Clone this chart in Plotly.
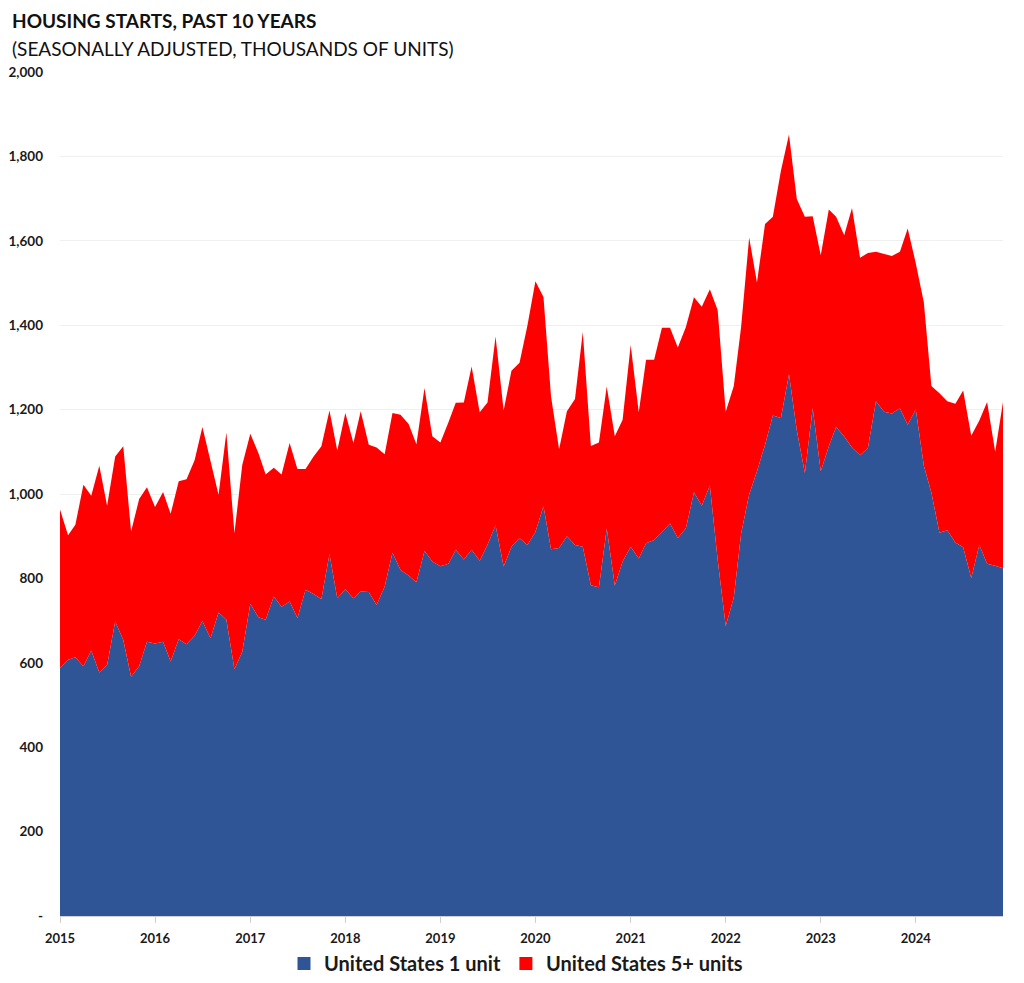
import pandas as pd
import plotly.graph_objects as go

# monthly, Jan 2015 - Dec 2024, thousands of units (SAAR)
months = pd.date_range('2015-01-01', periods=120, freq='MS')

one_unit = [
    587, 607, 613, 592, 629, 577, 595, 698, 654, 567, 592, 650,
    646, 650, 603, 656, 644, 664, 699, 658, 719, 702, 585, 626,
    740, 708, 702, 757, 733, 745, 706, 773, 763, 751, 858, 753,
    774, 753, 769, 768, 737, 781, 861, 820, 807, 791, 865, 840,
    829, 835, 868, 845, 868, 842, 880, 926, 828, 875, 896, 879,
    910, 971, 869, 872, 900, 879, 875, 784, 779, 918, 783, 840,
    875, 847, 883, 891, 910, 930, 896, 919, 1004, 972, 1020, 845,
    687, 755, 906, 999, 1054, 1117, 1186, 1180, 1284, 1151, 1050, 1203,
    1054, 1113, 1159, 1136, 1110, 1092, 1109, 1220, 1195, 1191, 1203, 1164,
    1200, 1067, 1003, 908, 914, 885, 874, 801, 879, 835, 830, 824,
]

five_plus = [
    376, 295, 314, 430, 367, 490, 377, 391, 459, 344, 396, 366,
    323, 355, 350, 374, 391, 416, 460, 419, 279, 444, 322, 443,
    403, 389, 344, 305, 313, 376, 353, 286, 326, 362, 340, 350,
    418, 368, 427, 349, 373, 313, 331, 368, 359, 327, 386, 297,
    293, 335, 348, 372, 434, 352, 337, 447, 370, 417, 415, 519,
    594, 496, 362, 234, 296, 346, 509, 330, 343, 337, 354, 336,
    478, 347, 435, 427, 484, 464, 451, 477, 462, 472, 465, 591,
    508, 501, 489, 609, 447, 523, 471, 586, 568, 548, 607, 455,
    512, 561, 498, 477, 568, 468, 462, 354, 373, 373, 371, 465,
    347, 387, 253, 331, 306, 329, 371, 337, 295, 383, 270, 394,
]

y_ticks = [0, 200, 400, 600, 800, 1000, 1200, 1400, 1600, 1800, 2000]
y_labels = ['-', '200', '400', '600', '800', '1,000', '1,200', '1,400', '1,600', '1,800', '2,000']

blue = '#2F5597'
red = '#FF0000'
font = 'Lato'

fig = go.Figure()

fig.add_trace(go.Scatter(
    x=months, y=one_unit, stackgroup='one', mode='lines',
    line={'width': 0, 'color': blue}, fillcolor=blue,
    name='United States 1 unit', showlegend=False, hoverinfo='x+y'
))
fig.add_trace(go.Scatter(
    x=months, y=five_plus, stackgroup='one', mode='lines',
    line={'width': 0, 'color': red}, fillcolor=red,
    name='United States 5+ units', showlegend=False, hoverinfo='x+y'
))

# square legend keys like the original
for name, colour in [('United States 1 unit', blue), ('United States 5+ units', red)]:
    fig.add_trace(go.Scatter(
        x=[None], y=[None], mode='markers', name=name,
        marker={'symbol': 'square', 'size': 13, 'color': colour}
    ))

# page body has an 8px margin, so the figure is 8px smaller each way
fig.update_layout(
    width=1016, height=975,
    margin={'l': 52, 'r': 21, 't': 64, 'b': 67, 'autoexpand': False},
    paper_bgcolor='white', plot_bgcolor='white',
    font={'family': font, 'color': '#1a1a1a'},
    showlegend=True,
    legend={
        'orientation': 'h', 'traceorder': 'normal',
        'xref': 'container', 'x': 0.5, 'xanchor': 'center',
        'yref': 'container', 'y': 0.02, 'yanchor': 'middle',
        'font': {'size': 20, 'family': font, 'weight': 'bold'},
        'itemwidth': 30,
    },
    annotations=[
        {'text': '<b>HOUSING STARTS, PAST 10 YEARS</b>', 'xref': 'paper', 'yref': 'paper',
         'x': -0.053, 'y': 1.0616, 'xanchor': 'left', 'yanchor': 'middle', 'showarrow': False,
         'font': {'size': 19, 'family': font, 'color': '#111111'}},
        {'text': '(SEASONALLY ADJUSTED, THOUSANDS OF UNITS)', 'xref': 'paper', 'yref': 'paper',
         'x': -0.053, 'y': 1.0284, 'xanchor': 'left', 'yanchor': 'middle', 'showarrow': False,
         'font': {'size': 19, 'family': font, 'color': '#111111'}},
    ],
)

fig.update_xaxes(
    type='date', range=[months[0], months[-1]],
    dtick='M12', tick0='2015-01-01', tickformat='%Y',
    ticks='outside', ticklen=6, tickcolor='#D0D0D0',
    showline=True, linecolor='#D0D0D0', showgrid=False,
    tickfont={'size': 13, 'family': font, 'weight': 'bold', 'color': '#1a1a1a'},
    ticklabelstandoff=4, automargin=False,
)
fig.update_yaxes(
    range=[0, 2000], tickvals=y_ticks, ticktext=y_labels,
    showgrid=True, gridcolor='#EFEFEF', gridwidth=1, zeroline=False,
    tickfont={'size': 13.5, 'family': font, 'weight': 'bold', 'color': '#1a1a1a'},
    ticklabelstandoff=16, automargin=False,
)

fig.write_html('out.html')
